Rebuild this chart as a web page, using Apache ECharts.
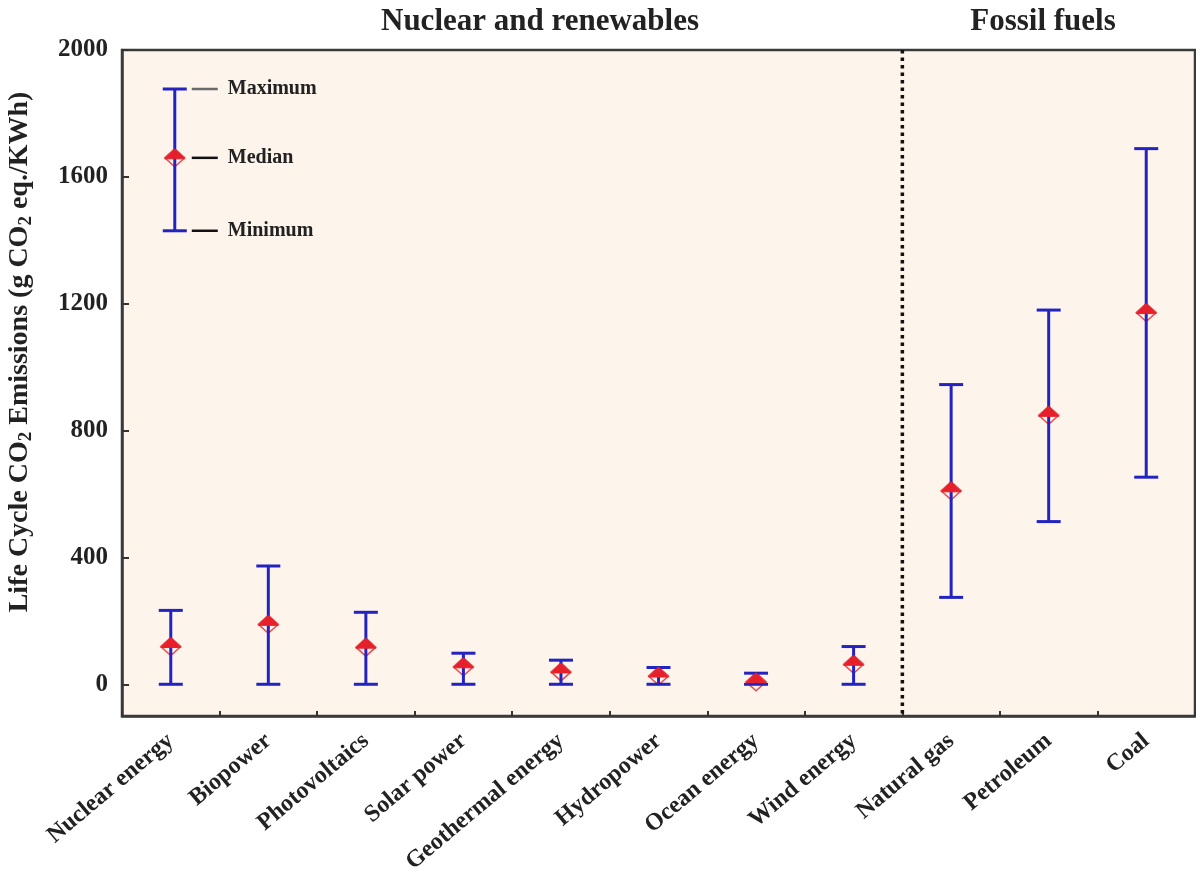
<!DOCTYPE html>
<html>
<head>
<meta charset="utf-8">
<script src="https://cdn.jsdelivr.net/npm/echarts@6/dist/echarts.min.js"></script>
<style>
html,body{margin:0;padding:0;background:#fff;}
#chart{width:1196px;height:892px;}
</style>
</head>
<body>
<div id="chart"></div>
<script>
// ---- data ----
const categories = ['Nuclear energy','Biopower','Photovoltaics','Solar power','Geothermal energy','Hydropower','Ocean energy','Wind energy','Natural gas','Petroleum','Coal'];
const minVals = [0, 0, 0, 0, 0, 0, 0, 0, 274, 513, 653];
const medianVals = [119, 189, 117, 55, 39, 26, 8, 63, 610, 848, 1172];
const maxVals = [233, 373, 227, 98, 76, 53, 35, 119, 945, 1180, 1689];
const yTicks = [0, 400, 800, 1200, 1600, 2000];
// legend sample glyph (drawn at first category)
const legendSample = [1430, 1660, 1877]; // min, median, max
const legendLabels = ['Minimum', 'Median', 'Maximum'];
const groupTitles = ['Nuclear and renewables', 'Fossil fuels'];
const dividerAfterIndex = 7; // dotted line between Wind energy and Natural gas

const BLUE = '#2323c2';
const RED = '#e5202b';
const FONT = '"Liberation Serif","Times New Roman",serif';

function errorBarChildren(api, idx, lo, med, hi, dx) {
  const cx = api.coord([idx, 0])[0] + (dx || 0);
  const yLo = api.coord([idx, lo])[1];
  const yMed = api.coord([idx, med])[1];
  const yHi = api.coord([idx, hi])[1];
  const cw = 12, mw = 10, mh = 9;
  return [
    { type: 'polygon', shape: { points: [[cx, yMed - mh], [cx + mw, yMed], [cx, yMed + mh], [cx - mw, yMed]] },
      style: { fill: 'none', stroke: RED, lineWidth: 1.5, opacity: 0.8 } },
    { type: 'line', shape: { x1: cx, y1: yHi, x2: cx, y2: yLo }, style: { stroke: BLUE, lineWidth: 3 } },
    { type: 'line', shape: { x1: cx - cw, y1: yHi, x2: cx + cw, y2: yHi }, style: { stroke: BLUE, lineWidth: 3 } },
    { type: 'line', shape: { x1: cx - cw, y1: yLo, x2: cx + cw, y2: yLo }, style: { stroke: BLUE, lineWidth: 3 } },
    { type: 'polygon', shape: { points: [[cx, yMed - mh], [cx + mw, yMed + 1], [cx - mw, yMed + 1]] },
      style: { fill: RED, stroke: RED, lineWidth: 1 } }
  ];
}

const chart = echarts.init(document.getElementById('chart'), null, { renderer: 'canvas' });

const option = {
  backgroundColor: '#ffffff',
  animation: false,
  grid: {
    left: 122, right: 1, top: 50, bottom: 176,
    show: true, backgroundColor: '#fdf4ec', borderColor: '#3a3a3a', borderWidth: 2.5
  },
  xAxis: {
    type: 'category',
    data: categories,
    boundaryGap: true,
    axisLine: { show: true, onZero: false, lineStyle: { color: '#3a3a3a', width: 2.5 } },
    axisTick: { show: true, inside: true, length: 5, lineStyle: { color: '#333', width: 2 } },
    axisLabel: { interval: 0, rotate: 40, margin: 22, fontFamily: FONT, fontWeight: 'bold', fontSize: 24, color: '#222' },
    splitLine: { show: false }
  },
  yAxis: {
    type: 'value',
    min: -100, max: 2000,
    axisLine: { show: true, onZero: false, lineStyle: { color: '#3a3a3a', width: 2.5 } },
    axisTick: { show: true, inside: true, length: 7, customValues: yTicks, lineStyle: { color: '#333', width: 2 } },
    axisLabel: { customValues: yTicks, formatter: function (v) { return String(v); }, margin: 14,
      fontFamily: FONT, fontWeight: 'bold', fontSize: 25, color: '#222' },
    splitLine: { show: false }
  },
  graphic: [
    { type: 'text', x: 540, y: 22, style: { text: groupTitles[0], font: 'bold 31px ' + FONT, fill: '#222', align: 'center', verticalAlign: 'middle' } },
    { type: 'text', x: 1043, y: 22, style: { text: groupTitles[1], font: 'bold 31px ' + FONT, fill: '#222', align: 'center', verticalAlign: 'middle' } },
    { type: 'text', x: 20, y: 352, rotation: Math.PI / 2,
      style: {
        text: '{n|Life Cycle CO}{s|2}{n| Emissions (g CO}{s|2}{n| eq./KWh)}',
        align: 'center', verticalAlign: 'middle', fill: '#222',
        rich: {
          n: { fontFamily: FONT, fontWeight: 'bold', fontSize: 28, lineHeight: 32, fill: '#222' },
          s: { fontFamily: FONT, fontWeight: 'bold', fontSize: 19, lineHeight: 20, verticalAlign: 'bottom', fill: '#222' }
        }
      }
    }
  ],
  series: [
    {
      type: 'custom', name: 'divider', clip: false, z: 2,
      data: [[dividerAfterIndex]],
      renderItem: function (params, api) {
        const cs = params.coordSys;
        const x = api.coord([api.value(0), 0])[0] + api.size([1, 0])[0] / 2;
        return { type: 'line', shape: { x1: x, y1: cs.y, x2: x, y2: cs.y + cs.height },
          style: { stroke: '#111', lineWidth: 3.5, lineDash: [3.5, 4] } };
      }
    },
    {
      type: 'custom', name: 'emissions', clip: false, z: 3,
      data: categories.map((c, i) => [i, minVals[i], medianVals[i], maxVals[i]]),
      encode: { x: 0, y: [1, 2, 3] },
      renderItem: function (params, api) {
        return { type: 'group', children: errorBarChildren(api, api.value(0), api.value(1), api.value(2), api.value(3), 0) };
      }
    },
    {
      type: 'custom', name: 'legend', clip: false, z: 3,
      data: [[0, legendSample[0], legendSample[1], legendSample[2]]],
      encode: { x: 0, y: [1, 2, 3] },
      renderItem: function (params, api) {
        const dx = 4;
        const children = errorBarChildren(api, 0, api.value(1), api.value(2), api.value(3), dx);
        const cx = api.coord([0, 0])[0] + dx;
        const vals = [api.value(1), api.value(2), api.value(3)];
        vals.forEach(function (v, k) {
          const y = api.coord([0, v])[1];
          children.push({ type: 'line', shape: { x1: cx + 17, y1: y, x2: cx + 43, y2: y },
            style: { stroke: k === 2 ? '#6a6a6a' : '#111', lineWidth: 2.5 } });
          children.push({ type: 'text', x: cx + 53, y: y,
            style: { text: legendLabels[k], font: 'bold 20px ' + FONT, fill: '#222', verticalAlign: 'middle', align: 'left' } });
        });
        return { type: 'group', children: children };
      }
    }
  ]
};
chart.setOption(option);
</script>
</body>
</html>
